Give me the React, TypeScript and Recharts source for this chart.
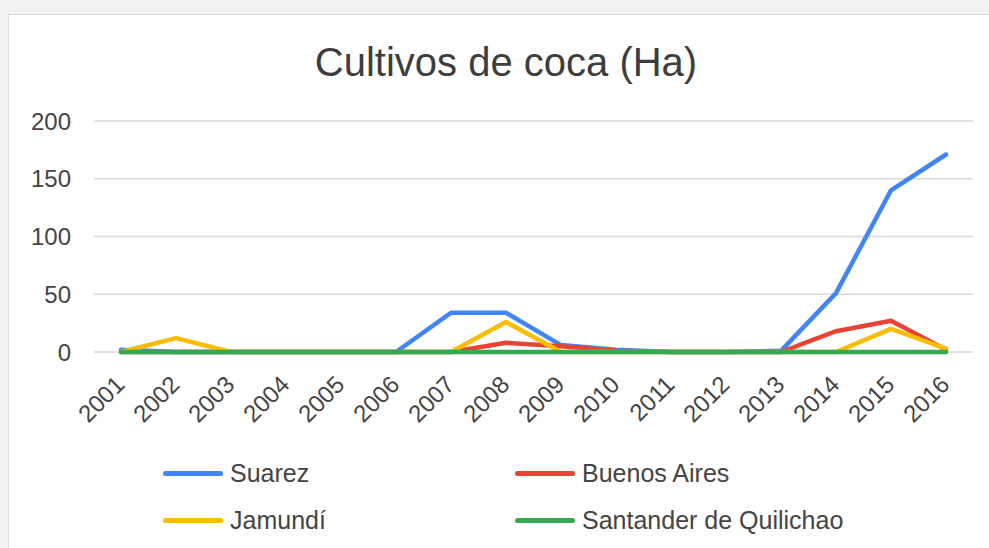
import React from "react";
import { LineChart, Line, XAxis, YAxis, CartesianGrid, Legend } from "recharts";

const years = ["2001","2002","2003","2004","2005","2006","2007","2008","2009","2010","2011","2012","2013","2014","2015","2016"];
const suarez = [2, 0, 0, 0, 0, 0, 34, 34, 6, 2, 0, 0, 1, 51, 140, 171];
const buenosAires = [0, 0, 0, 0, 0, 0, 0, 8, 5, 1, 0, 0, 0, 18, 27, 2];
const jamundi = [0, 12, 0, 0, 0, 0, 0, 26, 0, 0, 0, 0, 0, 0, 20, 3];
const santander = [0, 0, 0, 0, 0, 0, 0, 0, 0, 0, 0, 0, 0, 0, 0, 0];
const yTicks = [0, 50, 100, 150, 200];
const title = "Cultivos de coca (Ha)";

const seriesDefs = [
  { key: "Suarez", values: suarez, color: "#4285F4" },
  { key: "Buenos Aires", values: buenosAires, color: "#EA4335" },
  { key: "Jamundí", values: jamundi, color: "#FBBC04" },
  { key: "Santander de Quilichao", values: santander, color: "#34A853" },
];

const data = years.map((y, i) => {
  const row: any = { year: y };
  seriesDefs.forEach((s) => (row[s.key] = s.values[i]));
  return row;
});

const FONT = "'Liberation Sans', Arial, sans-serif";
const TEXT = "#444";

const XTick = (props: any) => {
  const { x, y, payload } = props;
  const ax = x + 5;
  const ay = y + 26;
  return (
    <text
      x={ax}
      y={ay}
      transform={`rotate(-45, ${ax}, ${ay})`}
      textAnchor="end"
      fill={TEXT}
      fontSize={24}
      fontFamily={FONT}
    >
      {payload.value}
    </text>
  );
};

const legendPos = [
  { left: 163, top: 0 },
  { left: 515, top: 0 },
  { left: 163, top: 47 },
  { left: 515, top: 47 },
];

const LegendContent = () => (
  <div style={{ position: "relative", width: 989, height: 90 }}>
    {seriesDefs.map((s, i) => (
      <div
        key={s.key}
        style={{
          position: "absolute",
          left: legendPos[i].left,
          top: legendPos[i].top,
          display: "flex",
          alignItems: "center",
          height: 30,
          fontFamily: FONT,
          fontSize: 25,
          color: TEXT,
          whiteSpace: "nowrap",
        }}
      >
        <span
          style={{
            display: "inline-block",
            width: 60,
            height: 5,
            borderRadius: 3,
            background: s.color,
            marginRight: 7,
          }}
        />
        {s.key}
      </div>
    ))}
  </div>
);

export default function App() {
  return (
    <div
      style={{
        position: "absolute",
        left: 0,
        top: 0,
        width: 989,
        height: 548,
        background: "#f3f3f3",
        overflow: "hidden",
      }}
    >
      <div
        style={{
          position: "absolute",
          left: 8,
          top: 14,
          width: 1000,
          height: 560,
          background: "#fff",
          border: "1px solid #dcdcdc",
          boxSizing: "border-box",
        }}
      />
      <div
        style={{
          position: "absolute",
          left: 0,
          top: 38,
          width: 1012,
          textAlign: "center",
          fontFamily: FONT,
          fontSize: 40,
          color: "#3d3d3d",
          lineHeight: "48px",
        }}
      >
        {title}
      </div>
      <div style={{ position: "absolute", left: 0, top: 0 }}>
        <LineChart
          width={989}
          height={548}
          data={data}
          margin={{ top: 121, right: 16, left: 8, bottom: 46 }}
        >
          <CartesianGrid vertical={false} stroke="#d9d9d9" strokeWidth={1.5} />
          <XAxis
            dataKey="year"
            type="category"
            interval={0}
            axisLine={false}
            tickLine={false}
            padding={{ left: 27, right: 27 }}
            height={60}
            tick={<XTick />}
          />
          <YAxis
            domain={[0, 200]}
            ticks={yTicks}
            width={86}
            axisLine={false}
            tickLine={false}
            tickSize={0}
            tickMargin={23}
            tick={{ fill: TEXT, fontSize: 24, fontFamily: FONT }}
          />
          <Legend
            verticalAlign="bottom"
            content={<LegendContent />}
            wrapperStyle={{ position: "absolute", left: 0, top: 458, width: 989, height: 90 }}
          />
          {seriesDefs.map((s) => (
            <Line
              key={s.key}
              type="linear"
              dataKey={s.key}
              stroke={s.color}
              strokeWidth={4.5}
              dot={false}
              activeDot={false}
              isAnimationActive={false}
              strokeLinejoin="round"
              strokeLinecap="round"
            />
          ))}
        </LineChart>
      </div>
    </div>
  );
}
